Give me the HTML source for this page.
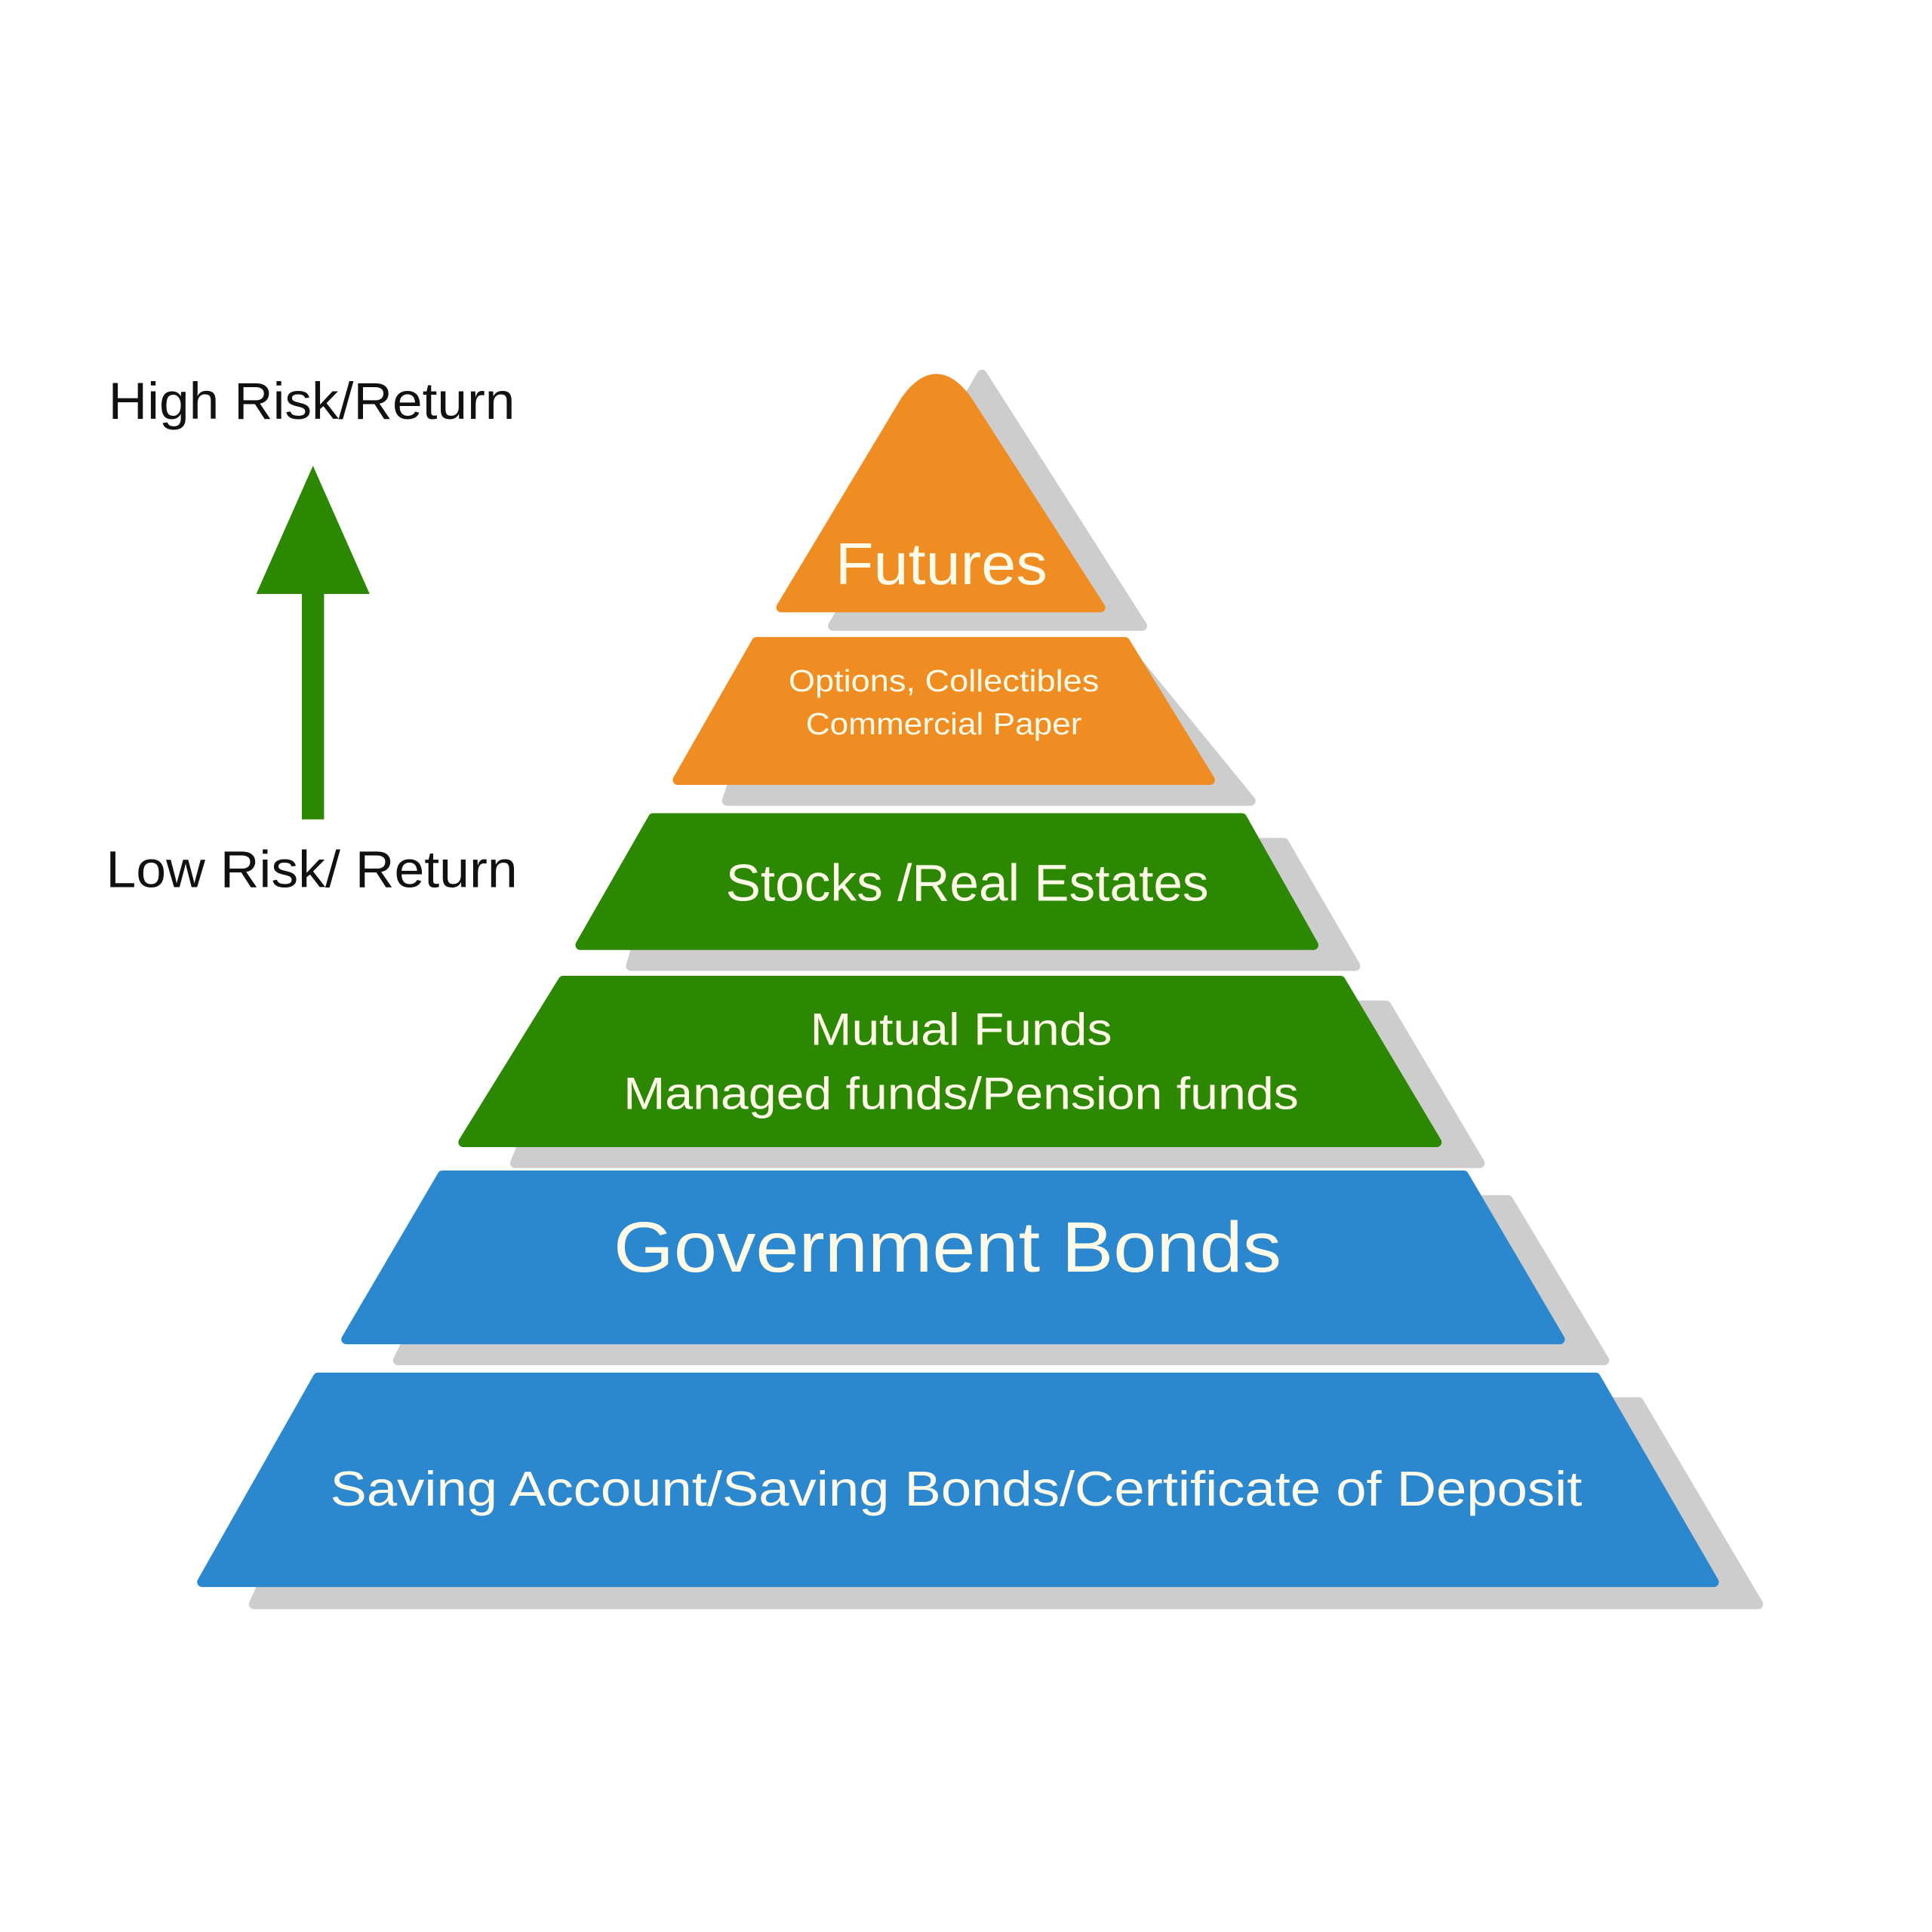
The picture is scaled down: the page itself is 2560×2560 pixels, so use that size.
<!DOCTYPE html>
<html><head><meta charset="utf-8"><style>html,body{margin:0;padding:0;background:#fff}svg{display:block}</style></head>
<body>
<svg width="2560" height="2560" viewBox="0 0 1568 1568" xmlns="http://www.w3.org/2000/svg" font-family="Liberation Sans, sans-serif">
<rect width="1568" height="1568" fill="#fff"/>
<g fill="#cdcdcd" stroke="#cdcdcd" stroke-width="8" stroke-linejoin="round">
<polygon points="797,304 927,508 676,508"/>
<polygon points="626,541 926,541 1015,650 590,650"/>
<polygon points="542,684 1042,684 1100,784 512,784"/>
<polygon points="470,816 1125,816 1201,944 418,944"/>
<polygon points="387,974 1224,974 1302,1104 323,1104"/>
<polygon points="280,1138 1330,1138 1427,1302 206,1302"/>
</g>
<g stroke-width="8" stroke-linejoin="round">
<path d="M634,493 L735,325 Q760,290 785,325 L893,493 Z" fill="#ef8c22" stroke="#ef8c22"/>
<polygon points="614,521 913,521 982,633 550,633" fill="#ef8c22" stroke="#ef8c22"/>
<polygon points="530,664 1008,664 1066,767 471,767" fill="#2b8800" stroke="#2b8800"/>
<polygon points="457,796 1088,796 1166,927 376,927" fill="#2b8800" stroke="#2b8800"/>
<polygon points="359,954 1188,954 1266,1087 281,1087" fill="#2b88ce" stroke="#2b88ce"/>
<polygon points="258,1118 1295,1118 1391,1284 164,1284" fill="#2b88ce" stroke="#2b88ce"/>
</g>
<polygon points="254,378 300,482 208,482" fill="#2b8800"/>
<rect x="245" y="480" width="18" height="185" fill="#2b8800"/>
<g fill="#111" font-size="42">
<text x="88" y="340" textLength="330" lengthAdjust="spacingAndGlyphs">High Risk/Return</text>
<text x="86" y="720" textLength="334" lengthAdjust="spacingAndGlyphs">Low Risk/ Return</text>
</g>
<g fill="#fffbe8" text-anchor="middle">
<text x="764" y="474" font-size="48" textLength="172" lengthAdjust="spacingAndGlyphs">Futures</text>
<text x="766" y="561" font-size="25" textLength="252" lengthAdjust="spacingAndGlyphs">Options, Collectibles</text>
<text x="766" y="596" font-size="25" textLength="224" lengthAdjust="spacingAndGlyphs">Commercial Paper</text>
<text x="785" y="731" font-size="42" textLength="392" lengthAdjust="spacingAndGlyphs">Stocks /Real Estates</text>
<text x="780" y="848" font-size="37" textLength="245" lengthAdjust="spacingAndGlyphs">Mutual Funds</text>
<text x="780" y="900" font-size="37" textLength="548" lengthAdjust="spacingAndGlyphs">Managed funds/Pension funds</text>
<text x="769" y="1032" font-size="58" textLength="542" lengthAdjust="spacingAndGlyphs">Government Bonds</text>
<text x="776" y="1222" font-size="40" textLength="1016" lengthAdjust="spacingAndGlyphs">Saving Account/Saving Bonds/Certificate of Deposit</text>
</g>
</svg>
</body></html>
